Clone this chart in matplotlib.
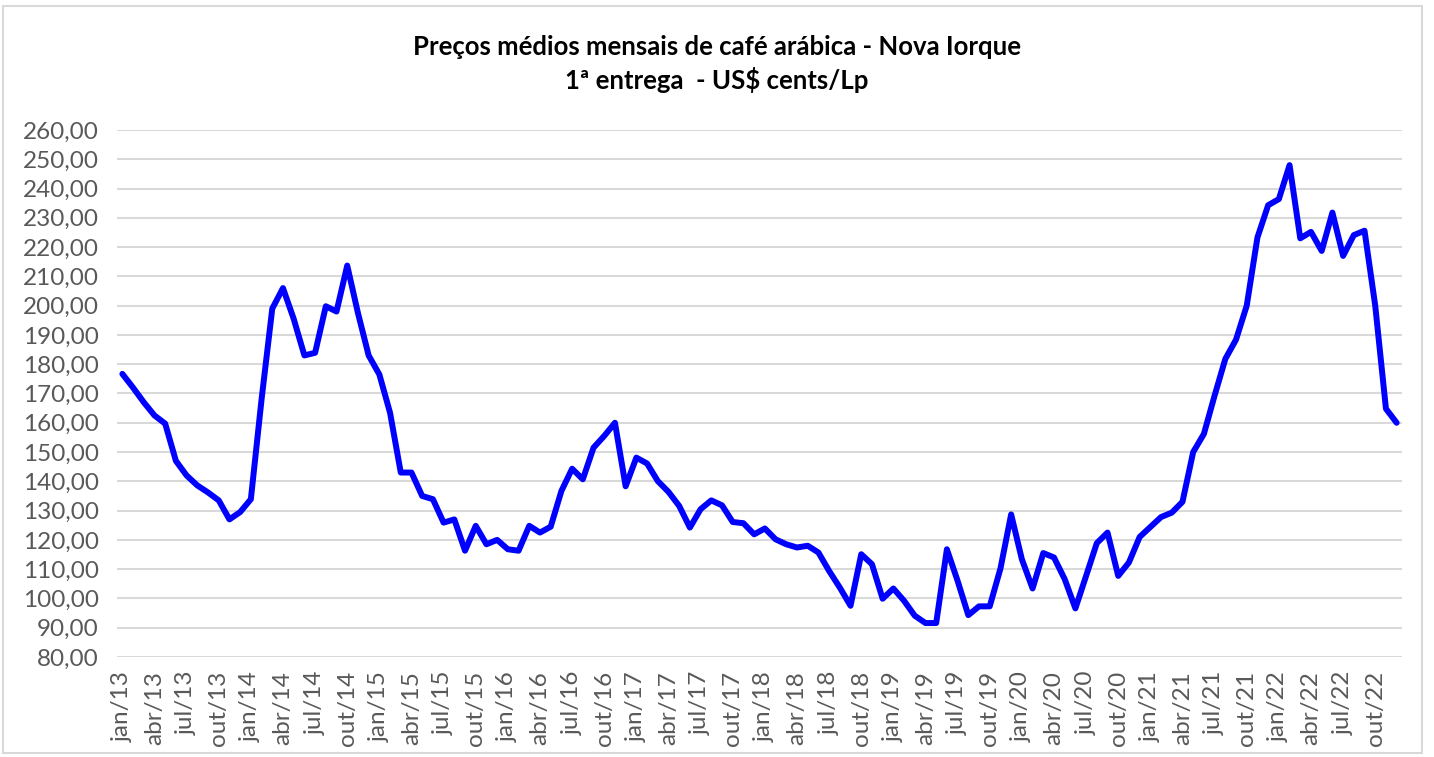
import numpy as np
import matplotlib
matplotlib.use('Agg')
import matplotlib.pyplot as plt
from matplotlib.patches import Rectangle

# monthly averages, jan/13 .. dez/22 (US$ cents/lb)
precos_2013 = [176.7, 172.0, 167.0, 162.5, 159.7, 147.0, 142.0, 138.6, 136.2, 133.5, 127.0, 129.5]
precos_2014 = [133.9, 168.0, 199.0, 206.0, 195.5, 183.0, 183.9, 199.8, 198.0, 213.7, 197.5, 183.0]
precos_2015 = [176.5, 163.4, 143.0, 143.0, 135.0, 133.9, 125.9, 127.0, 116.3, 124.8, 118.5, 120.0]
precos_2016 = [116.8, 116.3, 124.8, 122.5, 124.5, 136.7, 144.3, 140.7, 151.5, 155.5, 160.0, 138.3]
precos_2017 = [148.1, 146.1, 140.1, 136.4, 131.6, 124.2, 130.5, 133.5, 131.8, 126.1, 125.7, 121.9]
precos_2018 = [123.9, 120.2, 118.5, 117.4, 118.0, 115.7, 109.4, 103.7, 97.5, 115.1, 111.7, 99.9]
precos_2019 = [103.4, 99.2, 94.1, 91.6, 91.6, 116.8, 106.0, 94.3, 97.3, 97.3, 110.2, 128.7]
precos_2020 = [113.4, 103.4, 115.5, 114.0, 106.6, 96.6, 107.7, 118.9, 122.5, 107.7, 112.3, 121.0]
precos_2021 = [124.4, 127.8, 129.3, 133.0, 150.0, 156.2, 169.3, 181.8, 188.4, 200.0, 223.3, 234.3]
precos_2022 = [236.4, 248.0, 223.0, 225.2, 218.7, 231.8, 217.0, 224.1, 225.6, 200.0, 164.8, 160.0]

anos = ['13', '14', '15', '16', '17', '18', '19', '20', '21', '22']
meses_rotulo = ['jan', 'abr', 'jul', 'out']

precos = (precos_2013 + precos_2014 + precos_2015 + precos_2016 + precos_2017 +
          precos_2018 + precos_2019 + precos_2020 + precos_2021 + precos_2022)
rotulos = [m + '/' + a for a in anos for m in meses_rotulo]

plt.rcParams['font.family'] = ['Lato', 'DejaVu Sans']

W, H = 1434, 757
fig = plt.figure(figsize=(W / 100, H / 100), dpi=100)
fig.patch.set_facecolor('white')

# outer chart border
fig.patches.append(Rectangle((3 / W, 4 / H), (1422 - 3) / W, (751 - 4) / H,
                             transform=fig.transFigure, fill=False,
                             edgecolor='#d9d9d9', linewidth=1.5))

ax = fig.add_axes([117 / W, (H - 657) / H, 1285 / W, 527 / H])

x = np.arange(len(precos))
ax.plot(x, precos, color='#0000ff', linewidth=4.3, solid_joinstyle='round',
        solid_capstyle='round', zorder=3)

ax.set_xlim(-0.5, len(precos) - 0.5)
ax.set_ylim(80, 260)
yt = np.arange(80, 261, 10)
ax.set_yticks(yt)
ax.set_yticklabels([('%.2f' % v).replace('.', ',') for v in yt])
ax.set_xticks(x[::3])
ax.set_xticklabels(rotulos, rotation=90)

ax.grid(axis='y', color='#d9d9d9', linewidth=1.5, zorder=0)
ax.set_axisbelow(True)
for s in ax.spines.values():
    s.set_visible(False)
ax.tick_params(axis='both', length=0, colors='#595959', labelsize=17.5)
ax.tick_params(axis='y', pad=13)
ax.tick_params(axis='x', pad=10)

fig.text(0.5, 1 - 47 / H, 'Preços médios mensais de café arábica - Nova Iorque',
         ha='center', va='center', fontsize=18.5, fontweight='bold', color='black')
fig.text(0.5, 1 - 80 / H, '1ª entrega  - US$ cents/Lp',
         ha='center', va='center', fontsize=18.5, fontweight='bold', color='black')

fig.savefig('out.png', dpi=100)
